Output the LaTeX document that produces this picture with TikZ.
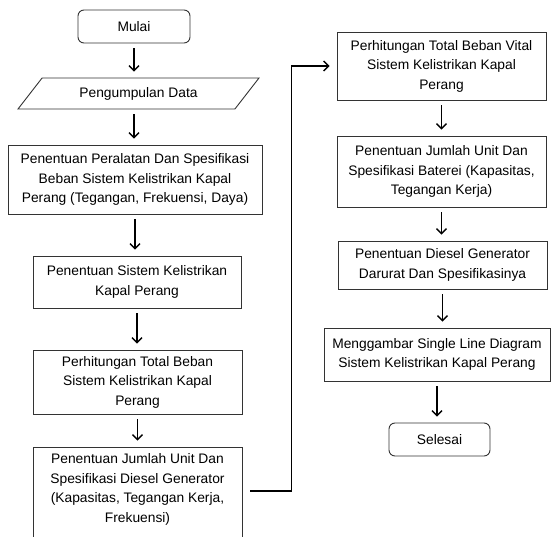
\documentclass[tikz,border=0pt]{standalone}
\usepackage{fontspec}
\setmainfont{Liberation Sans}
\usetikzlibrary{shapes.geometric,arrows.meta}

\tikzset{
  kotak/.style={draw=black!80, line width=0.9pt, align=center, inner sep=2pt},
  bulat/.style={kotak, rounded corners=6pt},
  jajar/.style={kotak, trapezium, trapezium left angle=35, trapezium right angle=145, trapezium stretches body},
  panah/.style={line width=1.6pt, -{Straight Barb[length=5pt,width=10pt,line width=1.3pt]}, shorten <=5pt, shorten >=6pt}
}

\begin{document}
\begin{tikzpicture}[x=1pt,y=-1pt,font=\fontsize{13.8}{19.5}\selectfont]
  \useasboundingbox (0,0) rectangle (551,537);
  \clip (0,0) rectangle (551,537);
  % Left column
  \node[bulat, minimum width=112pt, minimum height=33pt] (mulai) at (134,26.5) {Mulai};
  \node[jajar, minimum width=241pt, minimum height=31pt] (data) at (138.5,93.5) {Pengumpulan Data};
  \node[kotak, minimum width=254pt, minimum height=69pt] (peralatan) at (135,179.5) {Penentuan Peralatan Dan Spesifikasi\\Beban Sistem Kelistrikan Kapal\\Perang (Tegangan, Frekuensi, Daya)};
  \node[kotak, minimum width=208pt, minimum height=52pt] (sistem) at (137,282) {Penentuan Sistem Kelistrikan\\Kapal Perang};
  \node[kotak, minimum width=209pt, minimum height=64pt] (beban) at (137.5,382) {Perhitungan Total Beban\\Sistem Kelistrikan Kapal\\Perang};
  \node[kotak, minimum width=209pt, minimum height=98pt] (diesel) at (137.5,496) {};
  \node[align=center] (dieselteks) at (137.5,489.5) {Penentuan Jumlah Unit Dan\\Spesifikasi Diesel Generator\\(Kapasitas, Tegangan Kerja,\\Frekuensi)};
  % Right column
  \node[kotak, minimum width=209pt, minimum height=68pt] (vital) at (441.5,66) {Perhitungan Total Beban Vital\\Sistem Kelistrikan Kapal\\Perang};
  \node[kotak, minimum width=209pt, minimum height=71pt] (baterai) at (441.5,171.5) {Penentuan Jumlah Unit Dan\\Spesifikasi Baterei (Kapasitas,\\Tegangan Kerja)};
  \node[kotak, minimum width=209pt, minimum height=48pt] (darurat) at (442.5,265) {Penentuan Diesel Generator\\Darurat Dan Spesifikasinya};
  \node[kotak, minimum width=226pt, minimum height=53pt] (sld) at (437,354.5) {Menggambar Single Line Diagram\\Sistem Kelistrikan Kapal Perang};
  \node[bulat, minimum width=101pt, minimum height=33pt] (selesai) at (439.5,439.5) {Selesai};
  % Arrows
  \draw[panah] (mulai.south) -- (mulai.south |- data.north);
  \draw[panah] (mulai.south |- data.south) -- (mulai.south |- peralatan.north);
  \foreach \a/\b in {peralatan/sistem, sistem/beban, beban/diesel, vital/baterai, baterai/darurat, darurat/sld, sld/selesai}
    \draw[panah] (\a.south) -- (\a.south |- \b.north);
  % Link between columns
  \draw[panah, shorten <=8pt, shorten >=7pt] ([yshift=5pt]diesel.east) -- ++(49pt,0) |- (vital.west);
\end{tikzpicture}
\end{document}
